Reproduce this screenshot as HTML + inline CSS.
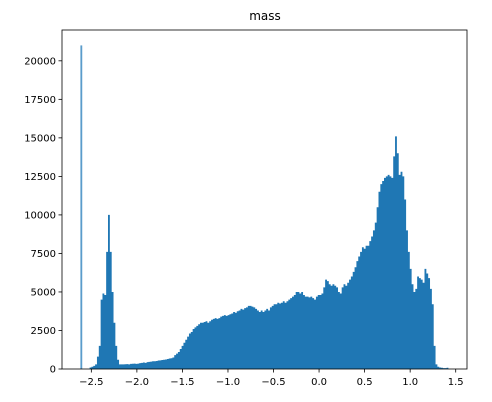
<!DOCTYPE html>
<html><head><meta charset="utf-8"><style>
body{margin:0;background:#fff;}
svg{display:block;font-family:"DejaVu Sans","Liberation Sans",sans-serif;}
</style></head><body>
<svg id="chart" width="492" height="402" viewBox="0 0 492 402">
<rect x="0" y="0" width="492" height="402" fill="#fff"/>
<text x="265" y="20" text-anchor="middle" font-size="12" fill="#000">mass</text>
<g id="bars"></g>
<g id="axes"></g>
</svg>
<script>
const binStart = -2.62;
const binWidth = 0.0202;
const counts = [21000,0,0,0,0,100,150,200,300,800,1500,4500,4900,4800,7600,10000,7600,5000,3000,1500,600,300,
300,300,310,320,300,330,340,350,330,350,380,400,420,400,450,
460,480,500,500,520,550,560,580,600,620,650,680,700,750,
900,1000,1100,1300,1500,1700,1900,2100,2300,2400,2600,2700,2800,2900,
3000,3000,3050,3100,3000,3100,3200,3250,3300,3250,3300,3400,3450,3500,3450,3500,
3550,3600,3700,3650,3750,3800,3900,3850,3950,4000,4100,4100,4050,4000,
3900,3800,3700,3800,3700,3800,3900,3800,4000,4100,4200,
4200,4300,4250,4300,4400,4300,4400,4500,4600,4700,4800,5000,5000,4900,
5000,4800,4700,4700,4650,4700,4600,4500,4700,4800,
4800,4900,5300,5800,5700,5500,5400,5500,5400,5300,
5000,4900,5300,5500,5400,5600,5800,6000,6300,6600,
7000,7300,7600,7900,7800,8000,8000,8300,8600,9000,
9500,10500,11500,12000,12200,12400,12500,12600,12500,12400,
13800,15100,14000,
12600,12800,12500,11000,9000,7600,6500,
5500,5000,5200,6000,5900,5800,5600,6500,6200,5900,
5200,4200,1500,300,150,100,80,60,60,80];
const xTicks = [-2.5,-2.0,-1.5,-1.0,-0.5,0.0,0.5,1.0,1.5];
const yTicks = [0,2500,5000,7500,10000,12500,15000,17500,20000];

const L=62,R=467,T=30,B=369;
const xMin=-2.822,xMax=1.624,yMax=22000;
const sx=v=>L+(v-xMin)/(xMax-xMin)*(R-L);
const sy=v=>B-v/yMax*(B-T);
const NS="http://www.w3.org/2000/svg";
const bars=document.getElementById('bars');
// spike bin drawn separately
const r=document.createElementNS(NS,'rect');
const sx0=sx(binStart), sx1=sx(binStart+binWidth);
r.setAttribute('x',sx0);r.setAttribute('y',sy(counts[0]));
r.setAttribute('width',sx1-sx0);r.setAttribute('height',B-sy(counts[0]));
r.setAttribute('fill','#5a9ccb');


bars.appendChild(r);
// remaining bins as one step outline
let first=1; while(counts[first]<=0) first++;
let d=`M${sx(binStart+first*binWidth).toFixed(2)},${B}`;
for(let i=first;i<counts.length;i++){
  const x0=sx(binStart+i*binWidth), x1=sx(binStart+(i+1)*binWidth);
  d+=`L${x0.toFixed(2)},${sy(counts[i]).toFixed(2)}L${x1.toFixed(2)},${sy(counts[i]).toFixed(2)}`;
}
d+=`L${sx(binStart+counts.length*binWidth).toFixed(2)},${B}Z`;
const p=document.createElementNS(NS,'path');
p.setAttribute('d',d);
p.setAttribute('fill','#1f77b4');


bars.appendChild(p);

const ax=document.getElementById('axes');
function add(tag,attrs,text){const e=document.createElementNS(NS,tag);for(const k in attrs)e.setAttribute(k,attrs[k]);if(text!==undefined)e.textContent=text;ax.appendChild(e);return e;}
const frame=add('rect',{x:L,y:T,width:R-L,height:B-T,fill:'none',stroke:'#000','stroke-width':0.8});


xTicks.forEach(v=>{
  const x=sx(v);
  const t=add('line',{x1:x,x2:x,y1:B,y2:B+3.5,stroke:'#000','stroke-width':0.8});
  
  
  const lb=add('text',{x:x,y:B+16,'text-anchor':'middle','font-size':10,fill:'#000'},(v<0?'\u2212':'')+Math.abs(v).toFixed(1));
  
  
});
yTicks.forEach(v=>{
  const y=sy(v);
  const t=add('line',{x1:L-3.5,x2:L,y1:y,y2:y,stroke:'#000','stroke-width':0.8});
  
  
  const lb=add('text',{x:L-6,y:y+3.5,'text-anchor':'end','font-size':10,fill:'#000'},String(v));
  
  
});
</script>
</body></html>
